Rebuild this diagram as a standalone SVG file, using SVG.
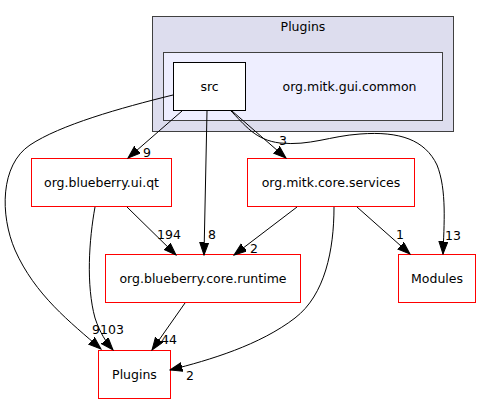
<svg xmlns="http://www.w3.org/2000/svg" width="479" height="404" viewBox="0 0 479 404">
<style>
text{font-family:"DejaVu Sans","Liberation Sans",sans-serif;font-size:12.5px;fill:#000}
.n rect{fill:#fff;stroke:#ff0000;stroke-width:1}
.c{text-anchor:middle}
.e path{fill:none;stroke:#000;stroke-width:1}
</style>
<defs>
<marker id="ah" markerUnits="userSpaceOnUse" markerWidth="14" markerHeight="10" refX="12.5" refY="4.5" orient="auto">
<path d="M0,0 L12.5,4.5 L0,9 z" fill="#000" stroke="#000" stroke-width="1"/>
</marker>
</defs>
<rect width="479" height="404" fill="#fff"/>
<g id="cluster_plugins">
<rect x="152.5" y="16.5" width="301" height="115" fill="#ddddee" stroke="#404040"/>
<text class="c" x="303" y="31">Plugins</text>
</g>
<g id="cluster_gui_common">
<rect x="163.5" y="52.5" width="279" height="68" fill="#eeeeff" stroke="#404040"/>
<text class="c" x="349.5" y="90.5">org.mitk.gui.common</text>
</g>
<g id="node_src">
<rect x="173.5" y="62.5" width="72" height="48" fill="#fff" stroke="#000"/>
<text class="c" x="209.5" y="90.5">src</text>
</g>
<g id="node_ui_qt" class="n">
<rect x="31.5" y="158.5" width="140" height="48"/>
<text class="c" x="101.5" y="186.5">org.blueberry.ui.qt</text>
</g>
<g id="node_core_services" class="n">
<rect x="247.5" y="158.5" width="167" height="48"/>
<text class="c" x="331" y="186.5">org.mitk.core.services</text>
</g>
<g id="node_core_runtime" class="n">
<rect x="105.5" y="254.5" width="195" height="48"/>
<text class="c" x="203" y="282.5">org.blueberry.core.runtime</text>
</g>
<g id="node_modules" class="n">
<rect x="398.5" y="254.5" width="77" height="48"/>
<text class="c" x="437" y="282.5">Modules</text>
</g>
<g id="node_plugins" class="n">
<rect x="98.5" y="350.5" width="72" height="48"/>
<text class="c" x="134.5" y="378.5">Plugins</text>
</g>
<g id="edges" class="e">
<path d="M182,111 L128,158" marker-end="url(#ah)"/>
<text x="143" y="157">9</text>
<path d="M207,111 L204,255" marker-end="url(#ah)"/>
<text x="208" y="239">8</text>
<path d="M232,111 L286,158" marker-end="url(#ah)"/>
<text x="279" y="145">3</text>
<path d="M230,110 C245,125 255,140 280,143 C310,146 330,136 360,134 C400,131 425,140 437,165 C447,190 444,225 443,254" marker-end="url(#ah)"/>
<text x="445" y="240">13</text>
<path d="M173,95 C120,108 60,125 30,145 C0,165 0,215 15,250 C35,295 70,322 101,349" marker-end="url(#ah)"/>
<text x="92" y="334">9</text>
<path d="M95,207 C89,240 86,285 95,318 C100,333 106,342 113,350" marker-end="url(#ah)"/>
<text x="100" y="334">103</text>
<path d="M127,207 L176,255" marker-end="url(#ah)"/>
<text x="157" y="239">194</text>
<path d="M297,207 L234,255" marker-end="url(#ah)"/>
<text x="250" y="253">2</text>
<path d="M357,207 L410,254" marker-end="url(#ah)"/>
<text x="396" y="239">1</text>
<path d="M334,207 C334,250 325,295 295,318 C260,345 210,360 170,370" marker-end="url(#ah)"/>
<text x="186" y="380">2</text>
<path d="M185,303 L152,350" marker-end="url(#ah)"/>
<text x="161" y="344">44</text>
</g>
</svg>
